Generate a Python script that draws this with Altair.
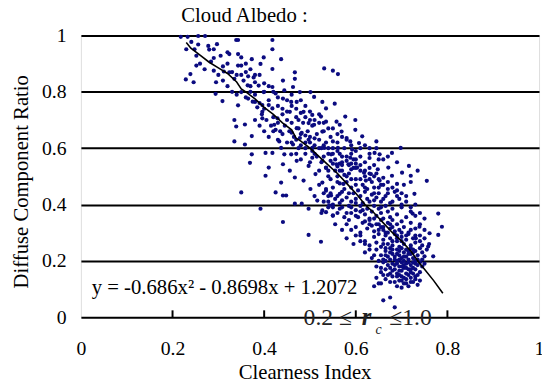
import altair as alt
import pandas as pd

# ---- scatter points (clearness index, diffuse ratio) ----
top_pts = [
    (0.218, 0.995), (0.233, 0.995), (0.256, 0.998), (0.271, 0.998), (0.241, 0.977),
    (0.230, 0.951), (0.248, 0.951), (0.256, 0.968), (0.252, 0.928), (0.278, 0.963),
    (0.297, 0.969), (0.290, 0.951), (0.305, 0.928), (0.320, 0.940), (0.324, 0.934),
    (0.339, 0.984), (0.343, 0.984), (0.343, 0.934), (0.350, 0.922), (0.350, 0.893),
    (0.343, 0.893), (0.373, 0.916), (0.399, 0.922), (0.418, 0.984), (0.418, 0.951),
    (0.418, 0.881), (0.392, 0.899), (0.437, 0.916), (0.252, 0.893), (0.229, 0.844),
    (0.239, 0.863), (0.246, 0.834), (0.284, 0.907), (0.290, 0.875), (0.312, 0.872),
    (0.324, 0.869), (0.295, 0.834), (0.294, 0.793), (0.309, 0.767), (0.335, 0.846),
    (0.350, 0.860), (0.365, 0.855), (0.377, 0.851), (0.380, 0.834), (0.364, 0.823),
    (0.350, 0.799), (0.343, 0.752), (0.365, 0.776), (0.380, 0.764), (0.388, 0.822),
    (0.399, 0.799), (0.418, 0.817), (0.441, 0.840), (0.467, 0.869), (0.467, 0.846),
    (0.463, 0.817), (0.444, 0.805), (0.441, 0.776), (0.425, 0.794), (0.531, 0.883),
    (0.550, 0.875), (0.561, 0.863), (0.410, 0.753), (0.396, 0.753),
    (0.330, 0.870), (0.340, 0.860), (0.355, 0.840), (0.360, 0.870), (0.370, 0.820),
    (0.310, 0.890), (0.320, 0.900), (0.380, 0.860), (0.400, 0.830), (0.420, 0.800),
    (0.290, 0.920), (0.300, 0.860), (0.310, 0.840), (0.320, 0.820), (0.330, 0.800),
    (0.340, 0.790), (0.260, 0.900), (0.270, 0.880), (0.280, 0.950), (0.360, 0.900),
    (0.370, 0.880), (0.390, 0.860), (0.400, 0.800), (0.410, 0.820), (0.430, 0.780),
    (0.450, 0.770), (0.460, 0.790), (0.480, 0.770), (0.490, 0.750),
]

mid_pts = [
    (0.335, 0.700), (0.339, 0.677), (0.335, 0.624), (0.358, 0.684), (0.358, 0.613),
    (0.373, 0.643), (0.373, 0.578), (0.369, 0.548), (0.396, 0.706), (0.403, 0.583),
    (0.396, 0.729), (0.418, 0.741), (0.422, 0.683), (0.425, 0.665), (0.429, 0.706),
    (0.418, 0.583), (0.433, 0.624), (0.437, 0.601), (0.441, 0.543), (0.444, 0.578),
    (0.437, 0.478), (0.425, 0.443), (0.441, 0.432), (0.448, 0.432), (0.456, 0.729),
    (0.459, 0.764), (0.471, 0.764), (0.478, 0.799), (0.486, 0.729), (0.475, 0.700),
    (0.471, 0.671), (0.482, 0.654), (0.478, 0.636), (0.463, 0.613), (0.459, 0.578),
    (0.471, 0.555), (0.456, 0.520), (0.467, 0.496), (0.486, 0.485), (0.467, 0.403),
    (0.482, 0.403), (0.497, 0.385), (0.501, 0.799), (0.509, 0.782), (0.505, 0.718),
    (0.497, 0.689), (0.509, 0.683), (0.497, 0.630), (0.505, 0.601), (0.505, 0.566),
    (0.497, 0.537), (0.512, 0.508), (0.501, 0.455), (0.516, 0.414), (0.527, 0.379),
    (0.535, 0.373), (0.527, 0.764), (0.535, 0.741), (0.524, 0.712), (0.535, 0.694),
    (0.527, 0.659), (0.531, 0.601), (0.527, 0.555), (0.535, 0.531), (0.527, 0.478),
    (0.535, 0.449), (0.546, 0.432), (0.542, 0.397), (0.550, 0.362), (0.554, 0.758),
    (0.558, 0.694), (0.565, 0.683), (0.569, 0.659), (0.550, 0.624), (0.561, 0.601),
    (0.546, 0.578), (0.558, 0.543), (0.565, 0.520), (0.573, 0.473), (0.565, 0.438),
    (0.577, 0.712), (0.580, 0.636), (0.588, 0.624), (0.592, 0.595), (0.588, 0.566),
    (0.584, 0.543), (0.599, 0.700), (0.599, 0.665), (0.607, 0.618), (0.614, 0.642),
    (0.618, 0.513), (0.603, 0.531), (0.622, 0.485), (0.633, 0.508), (0.645, 0.624),
    (0.641, 0.583), (0.652, 0.578), (0.648, 0.525), (0.652, 0.485), (0.671, 0.531),
    (0.679, 0.583), (0.679, 0.502), (0.698, 0.601), (0.701, 0.513), (0.690, 0.473),
    (0.716, 0.537), (0.728, 0.438), (0.720, 0.502), (0.735, 0.520), (0.755, 0.484),
    (0.780, 0.368), (0.788, 0.321), (0.780, 0.292), (0.761, 0.298), (0.769, 0.216),
    (0.750, 0.216), (0.758, 0.251), (0.731, 0.280), (0.739, 0.321), (0.724, 0.368),
    (0.350, 0.443), (0.392, 0.385), (0.441, 0.338), (0.497, 0.292), (0.524, 0.268),
    (0.410, 0.531), (0.403, 0.502),
    (0.420, 0.710), (0.430, 0.690), (0.435, 0.660), (0.440, 0.720), (0.445, 0.680),
    (0.450, 0.700), (0.455, 0.660), (0.460, 0.690), (0.465, 0.640), (0.470, 0.710),
    (0.475, 0.670), (0.480, 0.650), (0.485, 0.690), (0.490, 0.620), (0.495, 0.660),
    (0.500, 0.640), (0.505, 0.680), (0.510, 0.610), (0.515, 0.650), (0.520, 0.630),
    (0.525, 0.600), (0.530, 0.660), (0.535, 0.620), (0.540, 0.580), (0.545, 0.640),
    (0.550, 0.600), (0.555, 0.560), (0.560, 0.620), (0.565, 0.580), (0.570, 0.550),
    (0.575, 0.600), (0.580, 0.570), (0.585, 0.540), (0.590, 0.580), (0.595, 0.560),
    (0.600, 0.530), (0.610, 0.570), (0.620, 0.550), (0.630, 0.580), (0.640, 0.540),
    (0.650, 0.560), (0.460, 0.620), (0.475, 0.600), (0.490, 0.580), (0.505, 0.590),
    (0.515, 0.570), (0.525, 0.550), (0.535, 0.530), (0.545, 0.555), (0.555, 0.520),
    (0.565, 0.545), (0.480, 0.725), (0.500, 0.700), (0.520, 0.690), (0.540, 0.670),
    (0.560, 0.650), (0.580, 0.630), (0.400, 0.740), (0.410, 0.770), (0.380, 0.790),
    (0.390, 0.760), (0.370, 0.800), (0.360, 0.780), (0.375, 0.765), (0.385, 0.745),
    (0.395, 0.720), (0.405, 0.700), (0.415, 0.680),
    (0.600, 0.590), (0.630, 0.565), (0.645, 0.600), (0.660, 0.560), (0.670, 0.570),
    (0.690, 0.550), (0.720, 0.480), (0.705, 0.470),
    (0.430, 0.630), (0.440, 0.650), (0.450, 0.620), (0.460, 0.655), (0.470, 0.630),
    (0.480, 0.610), (0.490, 0.645), (0.500, 0.620), (0.510, 0.635), (0.520, 0.600),
    (0.530, 0.610), (0.540, 0.600), (0.550, 0.580), (0.560, 0.590), (0.570, 0.570),
    (0.580, 0.555), (0.590, 0.545), (0.600, 0.560), (0.610, 0.540), (0.620, 0.520),
    (0.630, 0.510), (0.640, 0.500), (0.650, 0.490), (0.660, 0.470), (0.670, 0.480),
    (0.680, 0.460), (0.690, 0.450), (0.700, 0.440),
    (0.380, 0.700), (0.390, 0.680), (0.400, 0.660), (0.410, 0.640), (0.420, 0.660),
    (0.430, 0.750), (0.440, 0.740), (0.450, 0.730), (0.460, 0.750), (0.470, 0.740),
    (0.490, 0.710), (0.500, 0.730), (0.510, 0.700), (0.520, 0.720), (0.530, 0.690),
    (0.550, 0.670), (0.570, 0.640), (0.590, 0.610), (0.610, 0.600), (0.630, 0.600),
    (0.620, 0.610),
]

dense_pts = [
    (0.520, 0.470), (0.540, 0.520), (0.550, 0.460), (0.560, 0.500), (0.570, 0.540),
    (0.580, 0.480), (0.585, 0.510), (0.590, 0.460), (0.595, 0.530), (0.600, 0.490),
    (0.605, 0.450), (0.610, 0.520), (0.615, 0.470), (0.620, 0.500), (0.625, 0.455),
    (0.630, 0.530), (0.635, 0.480), (0.640, 0.460), (0.645, 0.510), (0.655, 0.470),
    (0.660, 0.495), (0.670, 0.455), (0.565, 0.475), (0.575, 0.505), (0.545, 0.490),
    (0.535, 0.455), (0.560, 0.535), (0.600, 0.545), (0.575, 0.455), (0.590, 0.525),
    (0.470, 0.580), (0.480, 0.560), (0.490, 0.600), (0.500, 0.550), (0.510, 0.580),
    (0.520, 0.520), (0.530, 0.570), (0.540, 0.500), (0.550, 0.545), (0.560, 0.480),
    (0.570, 0.520), (0.580, 0.500), (0.590, 0.490), (0.600, 0.470), (0.610, 0.490),
    (0.620, 0.460), (0.630, 0.490), (0.640, 0.440), (0.650, 0.460), (0.660, 0.420),
    (0.670, 0.440), (0.680, 0.410), (0.690, 0.430), (0.700, 0.400), (0.710, 0.410),
    (0.720, 0.390), (0.730, 0.400), (0.740, 0.370), (0.750, 0.350),
    (0.510, 0.430), (0.530, 0.410), (0.545, 0.440), (0.555, 0.420), (0.565, 0.405),
    (0.570, 0.445), (0.580, 0.425), (0.590, 0.410), (0.595, 0.440), (0.600, 0.420),
    (0.610, 0.430), (0.615, 0.405), (0.620, 0.445), (0.625, 0.420), (0.630, 0.410),
    (0.635, 0.435), (0.640, 0.415), (0.650, 0.440), (0.655, 0.410), (0.665, 0.430),
    (0.675, 0.405), (0.685, 0.445), (0.695, 0.420), (0.710, 0.430), (0.600, 0.405),
    (0.585, 0.440), (0.570, 0.415), (0.645, 0.425),
    (0.530, 0.440), (0.540, 0.430), (0.550, 0.400), (0.560, 0.430),
    (0.525, 0.370), (0.540, 0.390), (0.550, 0.360), (0.565, 0.385), (0.575, 0.355),
    (0.585, 0.395), (0.590, 0.370), (0.600, 0.380), (0.605, 0.355), (0.610, 0.395),
    (0.620, 0.365), (0.625, 0.385), (0.630, 0.350), (0.635, 0.375), (0.640, 0.395),
    (0.645, 0.360), (0.650, 0.385), (0.655, 0.370), (0.660, 0.350), (0.665, 0.395),
    (0.670, 0.375), (0.675, 0.355), (0.680, 0.385), (0.690, 0.365), (0.700, 0.390),
    (0.710, 0.355), (0.720, 0.375), (0.730, 0.360), (0.615, 0.380), (0.655, 0.390),
    (0.570, 0.390), (0.580, 0.370), (0.590, 0.390), (0.600, 0.360), (0.610, 0.375),
    (0.560, 0.370), (0.550, 0.390), (0.540, 0.410),
    (0.555, 0.330), (0.570, 0.310), (0.585, 0.345), (0.600, 0.320), (0.610, 0.300),
    (0.615, 0.335), (0.625, 0.315), (0.630, 0.345), (0.640, 0.305), (0.645, 0.330),
    (0.650, 0.310), (0.655, 0.345), (0.660, 0.320), (0.665, 0.300), (0.670, 0.335),
    (0.675, 0.315), (0.680, 0.345), (0.685, 0.305), (0.690, 0.330), (0.695, 0.310),
    (0.700, 0.340), (0.705, 0.320), (0.715, 0.300), (0.720, 0.335), (0.730, 0.315),
    (0.740, 0.330), (0.750, 0.310), (0.635, 0.325), (0.655, 0.320), (0.675, 0.330),
    (0.620, 0.340), (0.630, 0.330), (0.640, 0.350), (0.650, 0.330), (0.660, 0.310),
    (0.670, 0.300), (0.680, 0.320), (0.710, 0.290), (0.720, 0.310), (0.730, 0.290),
    (0.580, 0.330), (0.590, 0.310), (0.600, 0.290),
    (0.580, 0.280), (0.595, 0.260), (0.610, 0.290), (0.620, 0.270), (0.630, 0.255),
    (0.640, 0.285), (0.645, 0.265), (0.650, 0.295), (0.655, 0.250), (0.660, 0.275),
    (0.665, 0.290), (0.670, 0.260), (0.675, 0.280), (0.680, 0.255), (0.685, 0.295),
    (0.690, 0.270), (0.695, 0.250), (0.700, 0.285), (0.705, 0.260), (0.710, 0.275),
    (0.715, 0.295), (0.720, 0.255), (0.725, 0.280), (0.730, 0.265), (0.740, 0.290),
    (0.745, 0.255), (0.660, 0.260), (0.680, 0.270), (0.700, 0.270), (0.690, 0.290),
    (0.690, 0.280), (0.700, 0.300), (0.740, 0.270), (0.750, 0.280), (0.755, 0.240),
    (0.760, 0.260), (0.610, 0.270), (0.620, 0.260), (0.630, 0.240),
    (0.620, 0.230), (0.635, 0.210), (0.645, 0.240), (0.655, 0.220), (0.660, 0.205),
    (0.665, 0.235), (0.670, 0.215), (0.675, 0.245), (0.680, 0.225), (0.685, 0.205),
    (0.690, 0.240), (0.695, 0.220), (0.700, 0.210), (0.700, 0.245), (0.705, 0.230),
    (0.710, 0.215), (0.710, 0.240), (0.715, 0.205), (0.720, 0.225), (0.720, 0.245),
    (0.725, 0.210), (0.730, 0.235), (0.735, 0.220), (0.740, 0.245), (0.745, 0.205),
    (0.690, 0.225), (0.680, 0.240), (0.705, 0.200), (0.725, 0.230), (0.715, 0.235),
    (0.695, 0.235), (0.675, 0.230), (0.730, 0.200), (0.665, 0.220),
    (0.665, 0.245), (0.675, 0.205), (0.685, 0.215), (0.695, 0.205), (0.705, 0.215),
    (0.715, 0.225), (0.725, 0.240), (0.735, 0.205), (0.745, 0.230), (0.640, 0.220),
    (0.650, 0.200), (0.665, 0.200),
    (0.645, 0.180), (0.655, 0.160), (0.660, 0.195), (0.665, 0.170), (0.670, 0.185),
    (0.675, 0.155), (0.680, 0.190), (0.685, 0.170), (0.690, 0.200), (0.690, 0.155),
    (0.695, 0.180), (0.700, 0.165), (0.700, 0.195), (0.705, 0.175), (0.710, 0.155),
    (0.710, 0.190), (0.715, 0.170), (0.720, 0.185), (0.720, 0.160), (0.725, 0.195),
    (0.730, 0.170), (0.735, 0.185), (0.740, 0.160), (0.745, 0.180), (0.750, 0.190),
    (0.685, 0.185), (0.705, 0.185), (0.715, 0.195), (0.695, 0.165), (0.675, 0.175),
    (0.725, 0.175), (0.690, 0.190), (0.700, 0.180), (0.710, 0.175), (0.720, 0.170),
    (0.730, 0.190), (0.740, 0.195), (0.680, 0.165), (0.715, 0.150), (0.725, 0.155),
    (0.735, 0.150), (0.695, 0.150), (0.660, 0.150), (0.655, 0.175),
    (0.645, 0.140), (0.655, 0.120), (0.665, 0.135), (0.675, 0.125), (0.680, 0.145),
    (0.690, 0.110), (0.695, 0.130), (0.700, 0.145), (0.705, 0.120), (0.710, 0.135),
    (0.715, 0.110), (0.720, 0.140), (0.725, 0.125), (0.730, 0.145), (0.735, 0.115),
    (0.740, 0.130), (0.670, 0.150), (0.700, 0.105), (0.690, 0.145), (0.700, 0.130),
    (0.710, 0.120), (0.720, 0.125), (0.730, 0.135), (0.705, 0.140), (0.685, 0.125),
    (0.660, 0.060), (0.675, 0.070), (0.685, 0.035), (0.650, 0.120), (0.640, 0.110),
]

# ---- fitted curve as drawn ----
fit_x = [0.23, 0.24, 0.26, 0.28, 0.30, 0.32, 0.34, 0.35, 0.36, 0.38, 0.40, 0.42,
         0.44, 0.46, 0.47, 0.48, 0.50, 0.52, 0.54, 0.56, 0.58, 0.60, 0.62, 0.64,
         0.66, 0.68, 0.70, 0.72, 0.74, 0.75, 0.77, 0.79]
fit_y = [0.975, 0.955, 0.930, 0.905, 0.885, 0.865, 0.835, 0.810, 0.800, 0.775,
         0.745, 0.720, 0.690, 0.665, 0.635, 0.625, 0.600, 0.570, 0.540, 0.510,
         0.475, 0.440, 0.400, 0.370, 0.335, 0.300, 0.270, 0.235, 0.190, 0.170,
         0.130, 0.085]

tick_vals = [0, 0.2, 0.4, 0.6, 0.8, 1]
inner_ticks = [0.2, 0.4, 0.6, 0.8]

FONT = "Liberation Serif"
NAVY = "#0b0b80"

all_pts = top_pts + mid_pts + dense_pts
pts = pd.DataFrame(all_pts, columns=["kt", "kd"])
fit = pd.DataFrame({"kt": fit_x, "kd": fit_y})
ticks = pd.DataFrame({"kt": inner_ticks})
one = pd.DataFrame({"a": [0]})

xscale = alt.Scale(domain=[0, 1], nice=False, zero=False)
yscale = alt.Scale(domain=[0, 1], nice=False, zero=False)

xaxis = alt.Axis(values=tick_vals, format="~g", grid=False, ticks=False, domain=False,
                 labelPadding=22, labelFlush=False, labelFont=FONT, labelFontSize=20,
                 labelColor="black", title="Clearness Index", titleFont=FONT,
                 titleFontSize=21, titleFontWeight="normal", titleColor="black",
                 titleX=227, titleY=45, titleBaseline="top")
yaxis = alt.Axis(values=tick_vals, format="~g", grid=True, gridColor="black",
                 gridWidth=2, gridOpacity=1, ticks=False, domain=False,
                 labelPadding=15, labelFont=FONT, labelFontSize=20, labelColor="black",
                 title="Diffuse Component Ratio", titleFont=FONT, titleFontSize=21,
                 titleFontWeight="normal", titleColor="black", titleX=-54,
                 titleY=148, titleBaseline="alphabetic")

scatter = alt.Chart(pts).mark_circle(size=18, color=NAVY, opacity=1).encode(
    x=alt.X("kt:Q", scale=xscale, axis=xaxis),
    y=alt.Y("kd:Q", scale=yscale, axis=yaxis),
)

line = alt.Chart(fit).mark_line(color="black", strokeWidth=1.6).encode(
    x=alt.X("kt:Q", scale=xscale),
    y=alt.Y("kd:Q", scale=yscale),
)

tickmarks = alt.Chart(ticks).mark_rule(color="black", strokeWidth=2).encode(
    x=alt.X("kt:Q", scale=xscale),
    y=alt.value(286),
    y2=alt.value(279),
)


def label(txt, x, y, size, **kw):
    params = dict(font=FONT, fontSize=size, align="left", baseline="alphabetic",
                  color="black")
    params.update(kw)
    return alt.Chart(one).mark_text(**params).encode(
        x=alt.value(x), y=alt.value(y), text=alt.value(txt))


title_txt = label("Cloud Albedo :", 166, -14, 21, align="center")
eq_text = label("y = -0.686x² - 0.8698x + 1.2072", 11, 262, 21)
t1 = label("0.2 ≤", 226, 294, 24, color="#222222")
t2 = label("r", 285, 294, 25, color="#222222", fontWeight="bold", fontStyle="italic")
t3 = label("c", 299, 303, 14, color="#222222", fontStyle="italic")
t4 = label("≤1.0", 313, 294, 24, color="#222222")

chart = alt.layer(scatter, line, tickmarks, eq_text, title_txt, t1, t2, t3, t4).properties(
    width=465, height=286,
    autosize=alt.AutoSizeParams(type="none"),
    padding={"left": 74, "top": 25, "right": 3, "bottom": 72},
).configure_view(stroke="black", strokeWidth=2).configure(background="white")

chart.save("out.html", embed_options={"renderer": "svg", "actions": False})
